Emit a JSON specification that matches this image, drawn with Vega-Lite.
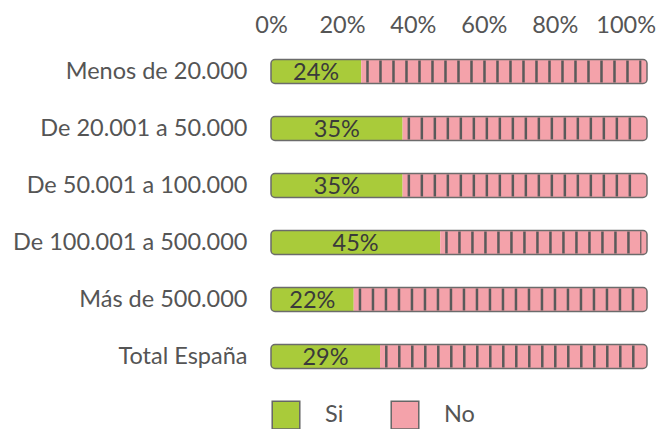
{
  "$schema": "https://vega.github.io/schema/vega-lite/v6.json",
  "width": 376,
  "height": 342,
  "padding": {"left": 12, "top": 13, "right": 0, "bottom": 0},
  "config": {"font": "Lato", "view": {"stroke": null}},
  "data": {
    "values": [
      {"cat": "Menos de 20.000", "Si": 0.24, "No": 0.76},
      {"cat": "De 20.001 a 50.000", "Si": 0.35, "No": 0.65},
      {"cat": "De 50.001 a 100.000", "Si": 0.35, "No": 0.65},
      {"cat": "De 100.001 a 500.000", "Si": 0.45, "No": 0.55},
      {"cat": "Más de 500.000", "Si": 0.22, "No": 0.78},
      {"cat": "Total España", "Si": 0.29, "No": 0.71}
    ]
  },
  "encoding": {
    "y": {
      "field": "cat", "type": "nominal", "sort": null, "title": null,
      "scale": {"paddingInner": 0.58, "paddingOuter": 0.29},
      "axis": {"ticks": false, "domain": false, "labelFontSize": 23.5, "labelColor": "#555", "labelPadding": 24, "labelLimit": 0}
    }
  },
  "layer": [
    {
      "layer": [
        {
          "transform": [{"fold": ["Si", "No"], "as": ["resp", "pct"]}],
          "mark": {"type": "bar", "cornerRadius": 3},
          "encoding": {
            "x": {"field": "pct", "type": "quantitative", "stack": "zero", "scale": {"domain": [0, 1]}, "axis": null},
            "color": {
              "field": "resp", "type": "nominal",
              "scale": {"domain": ["Si", "No"], "range": ["#a9cb3a", "#f4a2aa"]},
              "legend": {
                "title": null, "orient": "bottom", "direction": "horizontal",
                "symbolType": "square", "symbolSize": 760, "symbolStrokeColor": "#666", "symbolStrokeWidth": 1.5,
                "labelFontSize": 23.5, "labelColor": "#555", "labelOffset": 24, "columnPadding": 44, "offset": 15
              }
            },
            "order": {"field": "resp", "sort": "descending"}
          }
        },
        {
          "mark": {"type": "rule", "strokeWidth": 22, "strokeDash": [2.5, 10.5], "strokeDashOffset": 8, "color": "#5a5a5a", "strokeCap": "butt"},
          "encoding": {
            "x": {"field": "Si", "type": "quantitative", "scale": {"domain": [0, 1]}, "axis": null},
            "x2": {"datum": 0.985}
          }
        },
        {
          "mark": {"type": "bar", "cornerRadius": 4, "fillOpacity": 0, "stroke": "#6b6b6b", "strokeWidth": 1.5},
          "encoding": {
            "x": {"datum": 0, "type": "quantitative", "scale": {"domain": [0, 1]}, "axis": null},
            "x2": {"datum": 1}
          }
        },
        {
          "transform": [{"calculate": "datum.Si / 2", "as": "mid"}],
          "mark": {"type": "text", "fontSize": 23.5, "color": "#3a3a3a", "align": "center", "baseline": "middle", "dy": 1},
          "encoding": {
            "x": {"field": "mid", "type": "quantitative", "scale": {"domain": [0, 1]}, "axis": null},
            "text": {"field": "Si", "type": "quantitative", "format": ".0%"}
          }
        }
      ]
    },
    {
      "mark": {"type": "point", "opacity": 0},
      "encoding": {
        "x": {
          "field": "Si", "type": "quantitative", "scale": {"domain": [0, 1.06], "nice": false},
          "axis": {"orient": "top", "values": [0, 0.2, 0.4, 0.6, 0.8, 1], "format": ".0%", "title": null, "ticks": false, "domain": false, "grid": false, "labelFlush": false, "labelFontSize": 23.5, "labelColor": "#555", "labelPadding": 6}
        }
      }
    }
  ],
  "resolve": {"scale": {"x": "independent"}, "axis": {"x": "independent"}}
}
